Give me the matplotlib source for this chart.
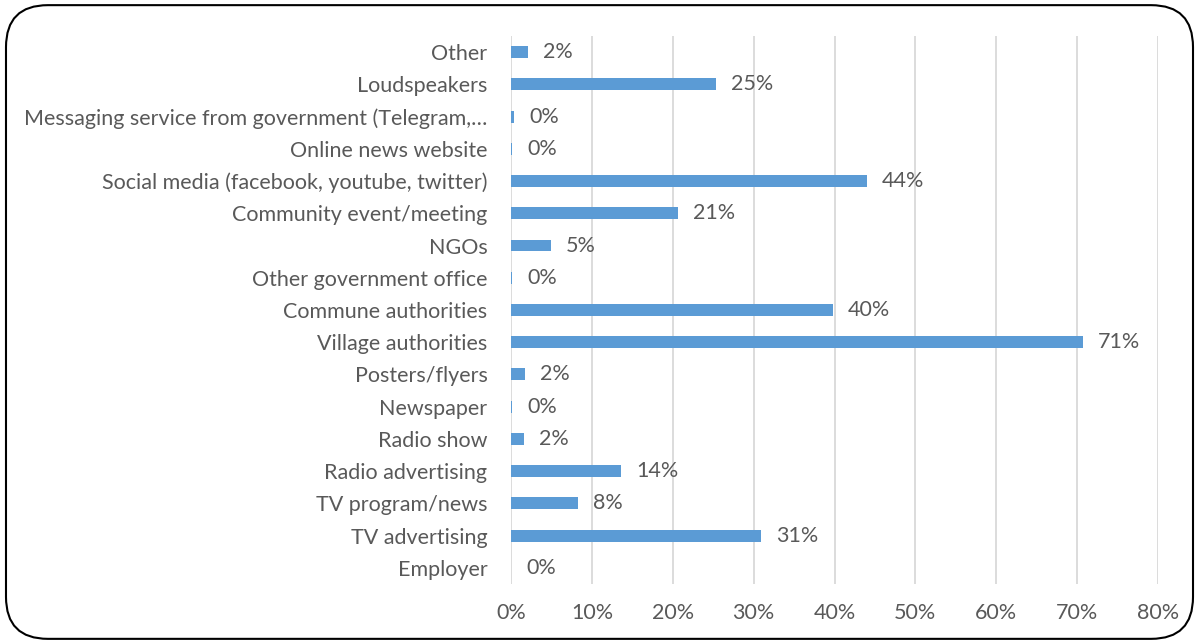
import matplotlib
matplotlib.use("Agg")
import matplotlib.pyplot as plt
from matplotlib.patches import FancyBboxPatch
from matplotlib.ticker import PercentFormatter, MultipleLocator

# Information sources, listed top to bottom
categories = [
    "Other",
    "Loudspeakers",
    "Messaging service from government (Telegram,\u2026",
    "Online news website",
    "Social media (facebook, youtube, twitter)",
    "Community event/meeting",
    "NGOs",
    "Other government office",
    "Commune authorities",
    "Village authorities",
    "Posters/flyers",
    "Newspaper",
    "Radio show",
    "Radio advertising",
    "TV program/news",
    "TV advertising",
    "Employer",
]
shares = [0.021, 0.253, 0.004, 0.001, 0.440, 0.206, 0.049, 0.001, 0.398,
          0.707, 0.017, 0.001, 0.016, 0.136, 0.083, 0.309, 0.0]

plt.rcParams["font.family"] = ["Lato", "DejaVu Sans"]

BAR = "#5B9BD5"
TEXT = "#595959"
GRID = "#D9D9D9"
FS = 15.5

fig = plt.figure(figsize=(11.99, 6.44), dpi=100)
ax = fig.add_axes([0.4262, 0.0932, 0.5396, 0.8509])

ypos = list(range(len(categories)))
ax.barh(ypos, shares, height=0.37, color=BAR, zorder=3)
ax.set_yticks(ypos)
ax.set_yticklabels(categories, fontsize=FS, color=TEXT)
ax.set_ylim(len(categories) - 0.5, -0.5)

ax.set_xlim(0, 0.8)
ax.xaxis.set_major_locator(MultipleLocator(0.1))
ax.xaxis.set_major_formatter(PercentFormatter(1.0, decimals=0))
ax.tick_params(axis="x", labelsize=FS, labelcolor=TEXT, length=0, pad=14)
ax.tick_params(axis="y", length=0, pad=17)
ax.grid(axis="x", color=GRID, linewidth=1.3, zorder=0)
for s in ax.spines.values():
    s.set_visible(False)

for y, v in zip(ypos, shares):
    ax.annotate(f"{v:.0%}", xy=(v, y), xytext=(11, 0), textcoords="offset points",
                ha="left", va="center", fontsize=FS, color=TEXT)

# rounded chart frame
frame = FancyBboxPatch((0.005, 0.008), 0.99, 0.984,
                       boxstyle="round,pad=0,rounding_size=0.035",
                       transform=fig.transFigure, facecolor="none",
                       edgecolor="black", linewidth=1.5,
                       mutation_aspect=1199 / 644)
fig.patches.append(frame)

fig.savefig("out.png", dpi=100)
